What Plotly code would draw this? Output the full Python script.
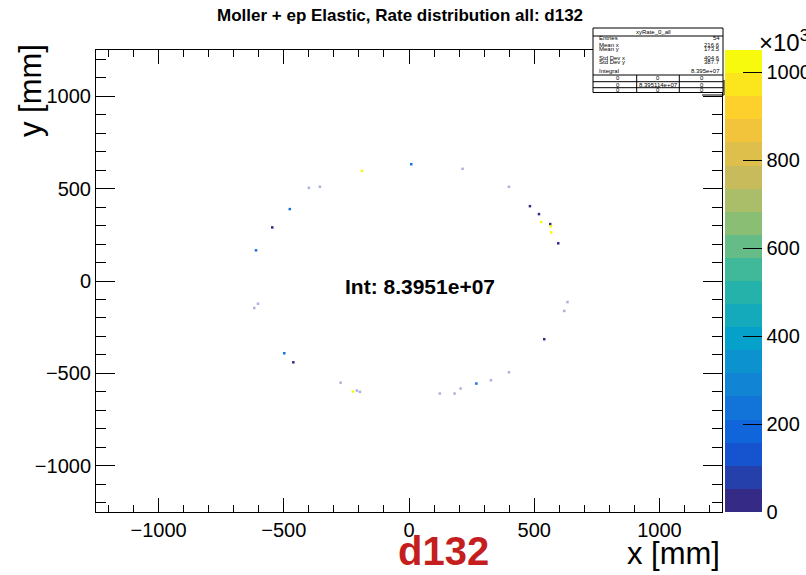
import numpy as np
import plotly.graph_objects as go

# ---------------- data ----------------
x_mm = [9, 214, -188, -400, -356, 399, -476, 483, 519, 528, 564, 566, 568, 596,
        -546, -611, 633, 620, -603, -618, 540, -498, -462, 399, 327, 269, 206,
        -273, -224, -208, -196, 123, 182]
y_mm = [632, 607, 596, 504, 510, 510, 389, 405, 362, 319, 308, 296, 263, 204,
        290, 166, -114, -162, -123, -146, -315, -391, -440, -494, -537, -555, -582,
        -550, -598, -593, -600, -609, -609]
rate = [220e3, 60e3, 1000e3, 60e3, 60e3, 60e3, 220e3, 30e3, 30e3, 1000e3, 30e3, 1000e3, 1000e3, 30e3,
        30e3, 220e3, 60e3, 60e3, 60e3, 60e3, 30e3, 220e3, 30e3, 60e3, 60e3, 220e3, 60e3,
        60e3, 1000e3, 60e3, 60e3, 60e3, 60e3]

x_ticks = [-1000, -500, 0, 500, 1000]
y_ticks = [-1000, -500, 0, 500, 1000]
z_ticks = [0, 200e3, 400e3, 600e3, 800e3, 1000e3]
z_ticktext = ["0", "200", "400", "600", "800", "1000"]

stats_labels = ["Entries", "Mean x", "Mean y", "Std Dev x", "Std Dev y", "Integral"]
stats_values = ["54", "216.6", "173.5", "404.6", "387.7", "8.395e+07"]
grid_cells = [["0", "0", "0"], ["0", "8.395114e+07", "0"], ["0", "0", "0"]]

# ---------------- colors (ROOT kBird, 20 bands) ----------------
stops = [0.0, 0.125, 0.25, 0.375, 0.5, 0.625, 0.75, 0.875, 1.0]
red = [0.2082, 0.0592, 0.0780, 0.0232, 0.1802, 0.5301, 0.8186, 0.9956, 0.9764]
green = [0.1664, 0.3599, 0.5041, 0.6419, 0.7178, 0.7492, 0.7328, 0.7862, 0.9832]
blue = [0.5293, 0.8684, 0.8385, 0.7914, 0.6425, 0.4662, 0.3499, 0.1968, 0.0539]
nb = 20
cscale = []
for i in range(nb):
    t = i / (nb - 1)
    r = np.interp(t, stops, red); g = np.interp(t, stops, green); b = np.interp(t, stops, blue)
    c = f"rgb({int(r*255)},{int(g*255)},{int(b*255)})"
    cscale.append([i / nb, c])
    cscale.append([(i + 1) / nb, c])

zmax = 1050e3
rate_arr = np.array(rate)
opac = np.where((rate_arr > 40e3) & (rate_arr < 100e3), 0.4, 1.0)

# ---------------- geometry ----------------
L, R, T, B = 96, 722, 50, 512
W, H = 806, 575
def px(x):
    return (x - L) / (R - L)
def py(y):
    return (B - y) / (B - T)

FONT = "Liberation Sans, Arial, Helvetica, sans-serif"

fig = go.Figure()
fig.add_trace(go.Scatter(
    x=x_mm, y=y_mm, mode="markers",
    marker=dict(symbol="square", size=2.5, color=rate, opacity=opac,
                colorscale=cscale, cmin=0, cmax=zmax, line=dict(width=0),
                colorbar=dict(
                    x=px(725), xanchor="left", y=0.5, yanchor="middle",
                    len=1, lenmode="fraction", thickness=37, thicknessmode="pixels",
                    xpad=0, ypad=0, outlinewidth=0,
                    tickvals=z_ticks, ticktext=z_ticktext,
                    ticks="inside", ticklen=19, tickcolor="black", tickwidth=1,
                    tickfont=dict(family=FONT, size=20, color="black"),
                )),
    hoverinfo="skip", showlegend=False,
))

axis_common = dict(
    showgrid=False, zeroline=False, showline=True, linecolor="black", linewidth=1,
    mirror="allticks", ticks="inside", tickcolor="black", tickwidth=1,
    tickfont=dict(family=FONT, size=20, color="black"),
)
fig.update_xaxes(range=[-1250, 1250], tickvals=x_ticks, ticklen=14,
                 minor=dict(dtick=100, ticklen=7, ticks="inside", tickcolor="black", showgrid=False),
                 **axis_common)
fig.update_yaxes(range=[-1250, 1250], tickvals=y_ticks, ticklen=19,
                 minor=dict(dtick=100, ticklen=10, ticks="inside", tickcolor="black", showgrid=False),
                 **axis_common)

ann = []
def add_text(x, y, text, size, xanchor="center", color="black", bold=False, angle=0):
    ann.append(dict(x=px(x), y=py(y), xref="paper", yref="paper", text=(f"<b>{text}</b>" if bold else text),
                    showarrow=False, xanchor=xanchor, yanchor="middle", textangle=angle,
                    font=dict(family=FONT, size=size, color=color)))

add_text(400, 16, "Moller + ep Elastic, Rate distribution all: d132", 17, bold=True)
add_text(420, 286, "Int: 8.3951e+07", 21, bold=True)
add_text(443, 551, "d132", 40, bold=True, color="#c41e1e")
add_text(722, 553, "x [mm]", 31, xanchor="right")
add_text(30, 91, "y [mm]", 31, angle=-90)
add_text(757, 41, "×10<sup>3</sup>", 24, xanchor="left")

# stats box
shapes = []
def line(x0, y0, x1, y1, w=1):
    shapes.append(dict(type="line", xref="paper", yref="paper", x0=px(x0), y0=py(y0), x1=px(x1), y1=py(y1),
                       line=dict(color="black", width=w)))
bx0, bx1, by0, by1 = 593, 723, 28, 92.5
shapes.append(dict(type="rect", xref="paper", yref="paper", x0=px(bx0), y0=py(by0), x1=px(bx1), y1=py(by1),
                   fillcolor="white", line=dict(color="black", width=1), layer="above"))
line(bx0, 36, bx1, 36)
line(bx0, 75, bx1, 75)
line(bx0, 81.7, bx1, 81.7)
line(bx0, 87.7, bx1, 87.7)
line(636.7, 75, 636.7, by1)
line(679.3, 75, 679.3, by1)
line(702, 95, 724, 95)
line(724, 80, 724, 95)

add_text(653, 32, "xyRate_0_all", 6)
row_y = [38.5, 45, 49, 58.3, 62.3, 70.7]
for lab, val, yy in zip(stats_labels, stats_values, row_y):
    add_text(597, yy, lab, 6, xanchor="left")
    add_text(722, yy, val, 6, xanchor="right")
col_x = [618, 658, 702]
for row, yy in zip(grid_cells, [78.3, 84.5, 90]):
    for cell, xx in zip(row, col_x):
        add_text(xx, yy, cell, 6)

fig.update_layout(
    width=W, height=H,
    margin=dict(l=L, r=W - R, t=T, b=H - B, pad=0, autoexpand=False),
    paper_bgcolor="white", plot_bgcolor="white",
    annotations=ann, shapes=shapes,
    font=dict(family=FONT, color="black"),
)

fig.write_html("out.html")
